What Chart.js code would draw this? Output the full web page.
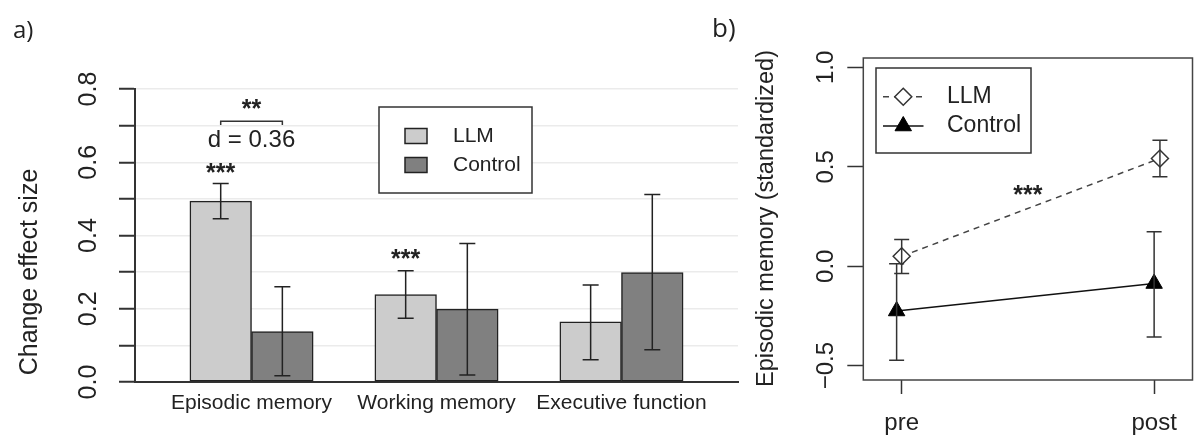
<!DOCTYPE html>
<html>
<head>
<meta charset="utf-8">
<script src="https://cdn.jsdelivr.net/npm/chart.js@4.4.1/dist/chart.umd.min.js"></script>
<style>
  html, body { margin: 0; padding: 0; background: #fff; }
  #page { position: relative; width: 1203px; height: 437px; overflow: hidden; }
  .panel { position: absolute; top: 0; height: 437px; }
  #wrapA { left: 0; width: 745px; }
  #wrapB { left: 745px; width: 458px; }
  .tag { position: absolute; font-family: "Open Sans", sans-serif; color: #222; }
</style>
</head>
<body>
<div id="page">
  <div class="panel" id="wrapA"><canvas id="chartA"></canvas></div>
  <div class="panel" id="wrapB"><canvas id="chartB"></canvas></div>
  <div class="tag" style="left:13px; top:17px; font-size:24px; line-height:24px">a)</div>
  <div class="tag" style="left:712px; top:14px; font-size:26px; line-height:26px">b)</div>
</div>
<script>
// panel a: change effect size per domain
const domains = ["Episodic memory", "Working memory", "Executive function"];
const domainPos = [2, 5, 8];
const llmEffect = [0.494, 0.239, 0.164];
const llmEffectLow = [0.446, 0.174, 0.061];
const llmEffectHigh = [0.542, 0.304, 0.265];
const controlEffect = [0.138, 0.199, 0.299];
const controlEffectLow = [0.017, 0.019, 0.088];
const controlEffectHigh = [0.26, 0.378, 0.512];
const effectTicks = [0, 0.2, 0.4, 0.6, 0.8];
const effectTickLabels = ["0.0", "0.2", "0.4", "0.6", "0.8"];

// panel b: episodic memory, pre vs post
const sessions = ["pre", "post"];
const sessionPos = [1, 2];
const llmMemory = [0.05, 0.542];
const llmMemoryLow = [-0.037, 0.45];
const llmMemoryHigh = [0.134, 0.634];
const controlMemory = [-0.225, -0.087];
const controlMemoryLow = [-0.473, -0.356];
const controlMemoryHigh = [0.013, 0.173];
const memoryTicks = [-0.5, 0, 0.5, 1];
const memoryTickLabels = ["\u22120.5", "0.0", "0.5", "1.0"];

const FONT = "'Liberation Sans', Arial, sans-serif";
const INK = "#222";

Chart.defaults.font.family = FONT;
Chart.defaults.color = INK;
Chart.defaults.animation = false;

const errorBars = {
  id: "errorBars",
  afterDatasetsDraw(chart, args, opts) {
    const ctx = chart.ctx;
    const yScale = chart.scales.y;
    chart.data.datasets.forEach((ds, i) => {
      if (!ds.errLow) return;
      const meta = chart.getDatasetMeta(i);
      ctx.save();
      ctx.strokeStyle = opts.color;
      ctx.lineWidth = opts.width;
      meta.data.forEach((el, j) => {
        const x = el.x;
        const top = yScale.getPixelForValue(ds.errHigh[j]);
        const bot = yScale.getPixelForValue(ds.errLow[j]);
        ctx.beginPath();
        ctx.moveTo(x, top);
        ctx.lineTo(x, bot);
        ctx.moveTo(x - opts.cap, top);
        ctx.lineTo(x + opts.cap, top);
        ctx.moveTo(x - opts.cap, bot);
        ctx.lineTo(x + opts.cap, bot);
        ctx.stroke();
      });
      ctx.restore();
    });
  }
};

// rotated y tick labels, y title, star notes, bracket, frame
const sideText = {
  id: "sideText",
  afterDraw(chart, args, o) {
    const ctx = chart.ctx;
    const xs = chart.scales.x;
    const ys = chart.scales.y;
    const area = chart.chartArea;
    ctx.save();
    if (o.frame) {
      ctx.strokeStyle = o.frame.color;
      ctx.lineWidth = o.frame.width;
      ctx.strokeRect(area.left, area.top, area.right - area.left, area.bottom - area.top);
    }
    ctx.fillStyle = INK;
    ctx.textAlign = "center";
    ctx.textBaseline = "middle";
    ctx.font = o.tickFont;
    o.tickValues.forEach((v, i) => {
      ctx.save();
      ctx.translate(o.tickX, ys.getPixelForValue(v));
      ctx.rotate(-Math.PI / 2);
      ctx.fillText(o.tickLabels[i], 0, 0);
      ctx.restore();
    });
    ctx.font = o.titleFont;
    ctx.save();
    ctx.translate(o.titleX, o.titleY);
    ctx.rotate(-Math.PI / 2);
    ctx.fillText(o.title, 0, 0);
    ctx.restore();
    ctx.textBaseline = "alphabetic";
    (o.notes || []).forEach(n => {
      ctx.font = n.font;
      ctx.fillText(n.text, xs.getPixelForValue(n.x), ys.getPixelForValue(n.y));
    });
    if (o.bracket) {
      const b = o.bracket;
      const x1 = xs.getPixelForValue(b.x1), x2 = xs.getPixelForValue(b.x2);
      const yt = ys.getPixelForValue(b.y), yl = ys.getPixelForValue(b.leg);
      ctx.strokeStyle = "#333";
      ctx.lineWidth = 1.5;
      ctx.beginPath();
      ctx.moveTo(x1, yl);
      ctx.lineTo(x1, yt);
      ctx.lineTo(x2, yt);
      ctx.lineTo(x2, yl);
      ctx.stroke();
    }
    ctx.restore();
  }
};

function drawMarker(ctx, style, x, y, r) {
  ctx.beginPath();
  if (style === "rectRot") {
    ctx.moveTo(x, y - r);
    ctx.lineTo(x + r, y);
    ctx.lineTo(x, y + r);
    ctx.lineTo(x - r, y);
  } else {
    const h = r * Math.sqrt(3) / 2;
    ctx.moveTo(x, y - r);
    ctx.lineTo(x + h, y + r / 2);
    ctx.lineTo(x - h, y + r / 2);
  }
  ctx.closePath();
  ctx.fill();
  ctx.stroke();
}

const boxLegend = {
  id: "boxLegend",
  afterDraw(chart, args, o) {
    const ctx = chart.ctx;
    ctx.save();
    ctx.fillStyle = "#fff";
    ctx.fillRect(o.x, o.y, o.w, o.h);
    ctx.strokeStyle = "#333";
    ctx.lineWidth = 1.5;
    ctx.strokeRect(o.x, o.y, o.w, o.h);
    chart.data.datasets.forEach((ds, i) => {
      const cy = o.rows[i];
      if (o.kind === "swatch") {
        ctx.fillStyle = ds.backgroundColor;
        ctx.fillRect(o.sx, cy - o.sh / 2, o.sw, o.sh);
        ctx.strokeStyle = "#222";
        ctx.lineWidth = 1.5;
        ctx.strokeRect(o.sx, cy - o.sh / 2, o.sw, o.sh);
      } else {
        ctx.strokeStyle = ds.borderColor;
        ctx.lineWidth = ds.borderWidth;
        ctx.setLineDash(ds.borderDash || []);
        ctx.beginPath();
        ctx.moveTo(o.lx1, cy);
        ctx.lineTo(o.lx2, cy);
        ctx.stroke();
        ctx.setLineDash([]);
        ctx.fillStyle = ds.pointBackgroundColor;
        ctx.strokeStyle = ds.pointBorderColor;
        ctx.lineWidth = ds.pointBorderWidth;
        drawMarker(ctx, ds.pointStyle, (o.lx1 + o.lx2) / 2, cy, ds.pointRadius);
      }
      ctx.fillStyle = INK;
      ctx.font = o.font;
      ctx.textAlign = "left";
      ctx.textBaseline = "middle";
      ctx.fillText(ds.label, o.tx, cy);
    });
    ctx.restore();
  }
};

const STARS = "bold 25px " + FONT;

// ---------- panel a ----------
new Chart(document.getElementById("chartA"), {
  type: "bar",
  data: {
    datasets: [
      {
        label: "LLM",
        data: domainPos.map((p, i) => ({ x: p - 0.5, y: llmEffect[i] })),
        errLow: llmEffectLow,
        errHigh: llmEffectHigh,
        backgroundColor: "#cccccc",
        borderColor: "#222",
        borderWidth: 1.5,
        borderSkipped: false,
        grouped: false,
        barPercentage: 1,
        categoryPercentage: 1
      },
      {
        label: "Control",
        data: domainPos.map((p, i) => ({ x: p + 0.5, y: controlEffect[i] })),
        errLow: controlEffectLow,
        errHigh: controlEffectHigh,
        backgroundColor: "#808080",
        borderColor: "#222",
        borderWidth: 1.5,
        borderSkipped: false,
        grouped: false,
        barPercentage: 1,
        categoryPercentage: 1
      }
    ]
  },
  options: {
    responsive: true,
    maintainAspectRatio: false,
    layout: { padding: { left: 0, top: 89, right: 7, bottom: 0 } },
    plugins: {
      legend: { display: false },
      tooltip: { enabled: false },
      errorBars: { color: "#222", width: 1.5, cap: 8 },
      sideText: {
        tickValues: effectTicks,
        tickLabels: effectTickLabels,
        tickX: 89.5,
        tickFont: "25px " + FONT,
        title: "Change effect size",
        titleX: 30,
        titleY: 272,
        titleFont: "25px " + FONT,
        notes: [
          { text: "***", x: 1.5, y: 0.549, font: STARS },
          { text: "d = 0.36", x: 2, y: 0.641, font: "24px " + FONT },
          { text: "**", x: 2, y: 0.723, font: STARS },
          { text: "***", x: 4.5, y: 0.313, font: STARS }
        ],
        bracket: { x1: 1.5, x2: 2.5, y: 0.712, leg: 0.702 }
      },
      boxLegend: {
        kind: "swatch",
        x: 379, y: 107, w: 153, h: 86,
        rows: [136, 165],
        sx: 405, sw: 22, sh: 15,
        tx: 453,
        font: "21px " + FONT
      }
    },
    scales: {
      x: {
        type: "linear",
        offset: false,
        min: 0.11,
        max: 9.89,
        afterBuildTicks: s => { s.ticks = domainPos.map(v => ({ value: v })); },
        afterFit: s => { s.height = 55; },
        ticks: {
          callback: v => domains[domainPos.indexOf(v)],
          font: { size: 21 },
          color: INK,
          padding: 9,
          maxRotation: 0,
          autoSkip: false
        },
        grid: { display: false, drawTicks: false, offset: false },
        border: { display: true, color: "#333", width: 2 }
      },
      y: {
        min: 0,
        max: 0.8,
        ticks: { stepSize: 0.1, display: false },
        afterFit: s => { s.width = 135; },
        grid: {
          color: "#ebebeb",
          lineWidth: 1.5,
          drawTicks: true,
          tickLength: 16,
          tickColor: "#333",
          tickWidth: 2
        },
        border: { display: true, color: "#333", width: 2 }
      }
    }
  },
  plugins: [errorBars, sideText, boxLegend]
});

// ---------- panel b ----------
new Chart(document.getElementById("chartB"), {
  type: "line",
  data: {
    datasets: [
      {
        label: "LLM",
        data: sessionPos.map((p, i) => ({ x: p + [0, 0.023][i], y: llmMemory[i] })),
        errLow: llmMemoryLow,
        errHigh: llmMemoryHigh,
        borderColor: "#444",
        borderWidth: 1.5,
        borderDash: [6, 5],
        pointStyle: "rectRot",
        pointRadius: 8.5,
        pointBackgroundColor: "#fff",
        pointBorderColor: "#333",
        pointBorderWidth: 1.5
      },
      {
        label: "Control",
        data: sessionPos.map((p, i) => ({ x: p + [-0.02, 0][i], y: controlMemory[i] })),
        errLow: controlMemoryLow,
        errHigh: controlMemoryHigh,
        borderColor: "#111",
        borderWidth: 1.5,
        pointStyle: "triangle",
        pointRadius: 9.5,
        pointBackgroundColor: "#000",
        pointBorderColor: "#000",
        pointBorderWidth: 1
      }
    ]
  },
  options: {
    responsive: true,
    maintainAspectRatio: false,
    layout: { padding: { left: 0, top: 58, right: 1.5, bottom: 0 } },
    plugins: {
      legend: { display: false },
      tooltip: { enabled: false },
      errorBars: { color: "#333", width: 1.5, cap: 7.5 },
      sideText: {
        frame: { color: "#444", width: 1.5 },
        tickValues: memoryTicks,
        tickLabels: memoryTickLabels,
        tickX: 81,
        tickFont: "24px " + FONT,
        title: "Episodic memory (standardized)",
        titleX: 22,
        titleY: 218.5,
        titleFont: "23.5px " + FONT,
        notes: [
          { text: "***", x: 1.5, y: 0.318, font: STARS }
        ]
      },
      boxLegend: {
        kind: "line",
        x: 131, y: 68, w: 155, h: 85,
        rows: [96.7, 126],
        lx1: 138, lx2: 178.5,
        tx: 202,
        font: "23px " + FONT
      }
    },
    scales: {
      x: {
        type: "linear",
        min: 0.848,
        max: 2.152,
        afterBuildTicks: s => { s.ticks = sessionPos.map(v => ({ value: v })); },
        afterFit: s => { s.height = 57; },
        ticks: {
          callback: v => sessions[sessionPos.indexOf(v)],
          font: { size: 24 },
          color: INK,
          padding: 15,
          maxRotation: 0,
          autoSkip: false
        },
        grid: {
          drawOnChartArea: false,
          drawTicks: true,
          tickLength: 14,
          tickColor: "#333",
          tickWidth: 1.5
        },
        border: { display: false }
      },
      y: {
        min: -0.572,
        max: 1.047,
        afterBuildTicks: s => { s.ticks = memoryTicks.map(v => ({ value: v })); },
        afterFit: s => { s.width = 118.3; },
        ticks: { display: false },
        grid: {
          drawOnChartArea: false,
          drawTicks: true,
          tickLength: 16,
          tickColor: "#333",
          tickWidth: 1.5
        },
        border: { display: false }
      }
    }
  },
  plugins: [errorBars, sideText, boxLegend]
});
</script>
</body>
</html>
